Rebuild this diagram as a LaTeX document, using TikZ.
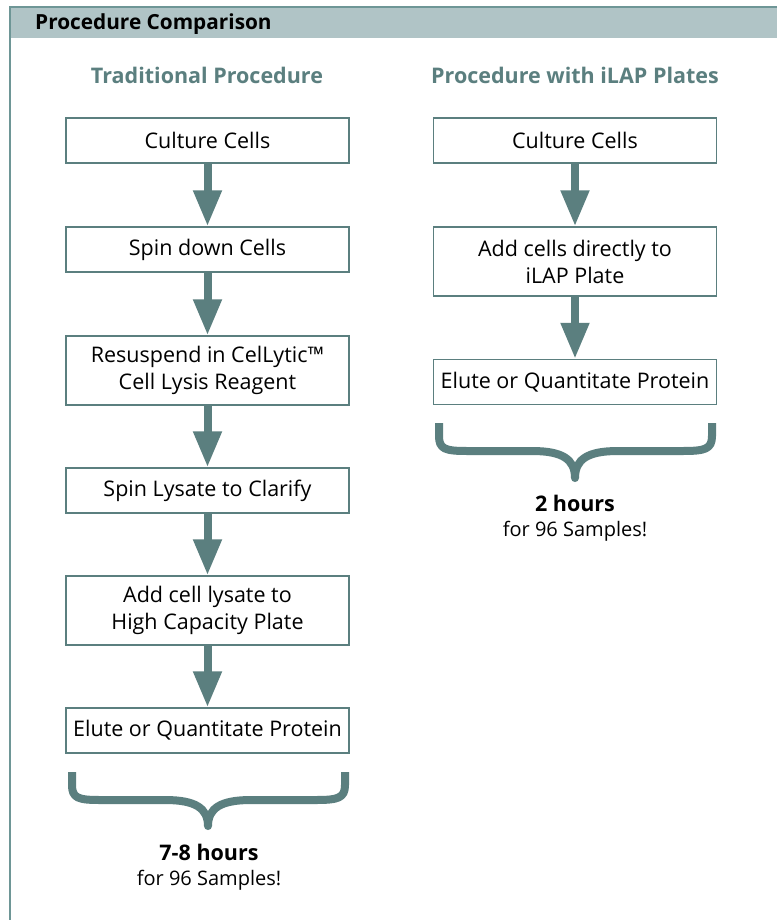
\documentclass[tikz,border=0pt]{standalone}
\usepackage{fontspec}
\setmainfont{Open Sans}
\usetikzlibrary{arrows.meta}
\definecolor{teal1}{HTML}{5B7F7F}
\definecolor{hdr}{HTML}{B0C4C6}
\definecolor{frame}{HTML}{6E9696}
\tikzset{
  stepbox/.style={draw=teal1, line width=1.5pt, fill=white, minimum width=283pt, align=center, inner sep=0pt, font=\fontsize{21.5}{27}\selectfont},
  one/.style={minimum height=45pt},
  two/.style={minimum height=69pt},
  arr/.style={draw=teal1, line width=8pt, -{Triangle[width=27pt,length=36pt]}},
  brace/.style={draw=teal1, line width=8pt, line join=round},
  colhead/.style={text=teal1, font=\fontsize{21.5}{25}\selectfont\bfseries},
  hrs/.style={font=\fontsize{21.5}{25}\selectfont\bfseries},
  smp/.style={font=\fontsize{20}{24}\selectfont},
}
\begin{document}
\begin{tikzpicture}[x=1pt,y=-1pt]
\useasboundingbox (0,0) rectangle (777,920);
\fill[white] (0,0) rectangle (777,920);
\fill[hdr] (10,7) rectangle (777,38);
\draw[frame, line width=1.5pt] (777,7) -- (10,7) -- (10,920);
\node[anchor=west, inner sep=0pt, font=\fontsize{20.8}{24}\selectfont\bfseries] (title) at (35,24) {Procedure Comparison};
\node[colhead] (h1) at (207,75) {Traditional Procedure};
\node[colhead] (h2) at (575,75) {Procedure with iLAP Plates};
% left column
\node[stepbox,one] (l1) at (207.5,140.5) {Culture Cells};
\node[stepbox,one] (l2) at (207.5,249.5) {Spin down Cells};
\node[stepbox,two] (l3) at (207.5,370.5) {Resuspend in CelLytic™\\Cell Lysis Reagent};
\node[stepbox,one] (l4) at (207.5,490.5) {Spin Lysate to Clarify};
\node[stepbox,two] (l5) at (207.5,610.5) {Add cell lysate to\\High Capacity Plate};
\node[stepbox,one] (l6) at (207.5,730.5) {Elute or Quantitate Protein};
\draw[arr] (l1.south) -- (l2.north);
\draw[arr] (l2.south) -- (l3.north);
\draw[arr] (l3.south) -- (l4.north);
\draw[arr] (l4.south) -- (l5.north);
\draw[arr] (l5.south) -- (l6.north);
% right column
\node[stepbox,one] (r1) at (575,140.5) {Culture Cells};
\node[stepbox,two] (r2) at (575,261.5) {Add cells directly to\\iLAP Plate};
\node[stepbox,one] (r3) at (575,382) {Elute or Quantitate Protein};
\draw[arr] (r1.south) -- (r2.north);
\draw[arr] (r2.south) -- (r3.north);
% braces
\coordinate (lt) at (208,826);
\draw[brace] (72,772) -- (72,785) .. controls (72,798) and (78,800) .. (100,800) -- (165,800) .. controls (195,800) and (208,808) .. (lt) .. controls (208,808) and (221,800) .. (251,800) -- (316,800) .. controls (338,800) and (345,798) .. (345,785) -- (345,772);
\coordinate (rt) at (575,478);
\draw[brace] (439,423) -- (439,436) .. controls (439,449) and (445,451) .. (467,451) -- (532,451) .. controls (562,451) and (575,459) .. (rt) .. controls (575,459) and (588,451) .. (618,451) -- (683,451) .. controls (705,451) and (712,449) .. (712,436) -- (712,423);
\node[hrs] (t1) at (209,852) {7-8 hours};
\node[smp] (s1) at (209,880) {for 96 Samples!};
\node[hrs] (t2) at (575,503) {2 hours};
\node[smp] (s2) at (575,531) {for 96 Samples!};
\end{tikzpicture}
\end{document}
